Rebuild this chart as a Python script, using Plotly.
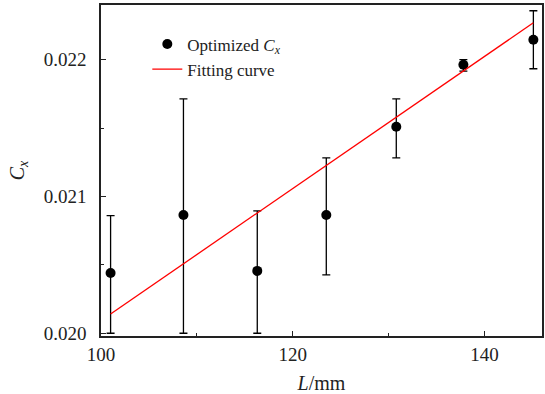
import plotly.graph_objects as go

# Data
L_mm = [101.0, 108.6, 116.3, 123.5, 130.8, 137.8, 145.1]
Cx = [0.02044, 0.020865, 0.020456, 0.020865, 0.02151, 0.021963, 0.022146]
Cx_upper = [0.02086, 0.021714, 0.020895, 0.021283, 0.021714, 0.022, 0.022358]
Cx_lower = [0.0200, 0.0200, 0.0200, 0.020427, 0.021283, 0.021917, 0.021934]

fit_L = [101.0, 145.1]
fit_Cx = [0.020141, 0.02227]

err_plus = [u - c for u, c in zip(Cx_upper, Cx)]
err_minus = [c - l for c, l in zip(Cx, Cx_lower)]

FONT = "Liberation Serif"

fig = go.Figure()
fig.add_trace(go.Scatter(
    x=L_mm, y=Cx, mode="markers",
    name="Optimized <i>C</i><sub><i>x</i></sub>",
    marker=dict(color="black", size=10),
    error_y=dict(type="data", symmetric=False, array=err_plus, arrayminus=err_minus,
                 color="black", thickness=1.3, width=4),
))
fig.add_trace(go.Scatter(
    x=fit_L, y=fit_Cx, mode="lines", name="Fitting curve",
    line=dict(color="red", width=1.3),
))

axis_common = dict(
    showline=True, linecolor="#222", linewidth=1.5, mirror=True,
    ticks="inside", ticklen=5, tickwidth=1.2, tickcolor="#222",
    showgrid=False, zeroline=False,
    tickfont=dict(family=FONT, size=19, color="#222"),
)

fig.update_xaxes(
    range=[100, 146], tick0=100, dtick=20,
    minor=dict(ticks="inside", ticklen=3, dtick=10, tickcolor="#222", tickwidth=1.2),
    title=dict(text="<i>L</i>/mm", font=dict(family=FONT, size=20, color="#222"), standoff=12),
    **axis_common,
)
fig.update_yaxes(
    range=[0.01998, 0.0224], tick0=0.020, dtick=0.001, tickformat=".3f",
    minor=dict(ticks="inside", ticklen=3, dtick=0.0005, tickcolor="#222", tickwidth=1.2),
    ticklabelstandoff=9,
    title=dict(text="<i>C</i><sub><i>x</i></sub>", font=dict(family=FONT, size=20, color="#222"), standoff=14),
    **axis_common,
)

fig.update_layout(
    width=545, height=394,
    margin=dict(l=101, r=1, t=5, b=58),
    plot_bgcolor="white", paper_bgcolor="white",
    showlegend=True,
    legend=dict(x=0.105, y=0.935, xanchor="left", yanchor="top",
                bgcolor="rgba(0,0,0,0)", font=dict(family=FONT, size=17, color="#222")),
)

fig.write_html("out.html", config={"displayModeBar": False},
               post_script="document.body.style.margin='0';")
